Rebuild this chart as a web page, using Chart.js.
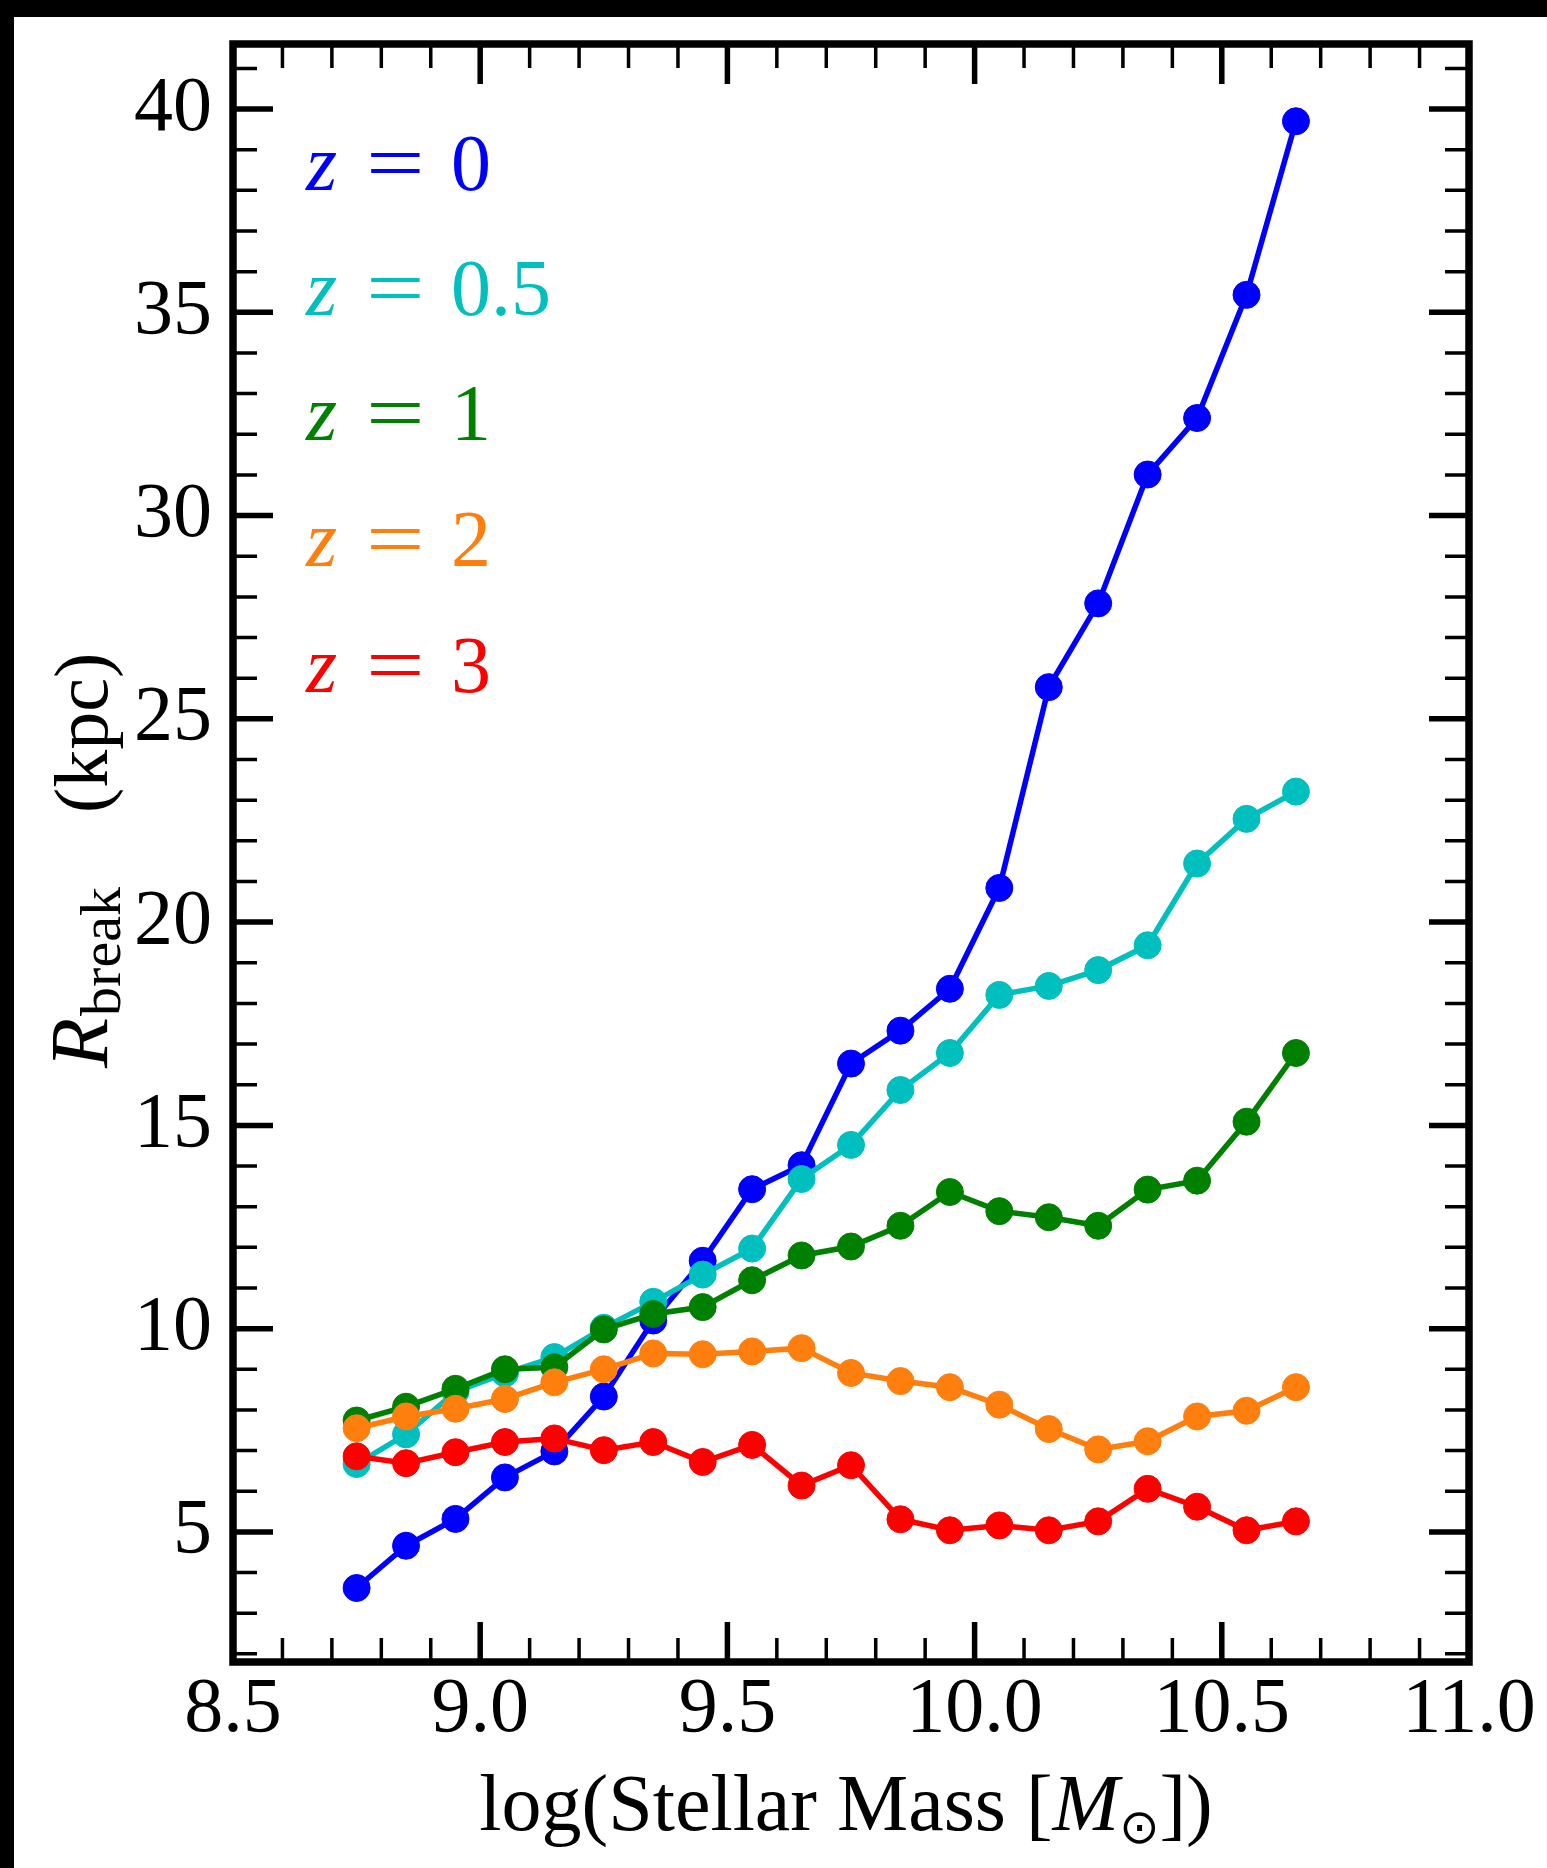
<!DOCTYPE html>
<html>
<head>
<meta charset="utf-8">
<title>R_break vs stellar mass</title>
<script src="https://cdn.jsdelivr.net/npm/chart.js@4.4.0/dist/chart.umd.min.js"></script>
<style>
html, body { margin: 0; padding: 0; background: #fff; overflow: hidden; }
#wrap { width: 1547px; height: 1868px; }
</style>
</head>
<body>
<div id="wrap"><canvas id="chartBreak" width="1547" height="1868"></canvas></div>
<script>
// mass bins (log M*), one point per bin
var logMass = [8.75, 8.85, 8.95, 9.05, 9.15, 9.25, 9.35, 9.45, 9.55, 9.65,
               9.75, 9.85, 9.95, 10.05, 10.15, 10.25, 10.35, 10.45, 10.55, 10.65];

// R_break in kpc for each redshift
var rBreakZ0  = [3.62, 4.66, 5.32, 6.34, 6.98, 8.33, 10.2, 11.67, 13.43, 14.02,
                 16.52, 17.33, 18.36, 20.84, 25.78, 27.84, 31.01, 32.4, 35.43, 39.7];
var rBreakZ05 = [6.67, 7.4, 8.45, 8.9, 9.3, 10.02, 10.66, 11.33, 11.97, 13.68,
                 14.52, 15.87, 16.78, 18.21, 18.43, 18.82, 19.43, 21.44, 22.54, 23.21];
var rBreakZ1  = [7.74, 8.08, 8.52, 9.0, 9.05, 9.98, 10.36, 10.53, 11.19, 11.8,
                 12.02, 12.53, 13.36, 12.89, 12.74, 12.53, 13.42, 13.64, 15.09, 16.78];
var rBreakZ2  = [7.55, 7.84, 8.03, 8.27, 8.68, 9.0, 9.39, 9.37, 9.44, 9.52,
                 8.91, 8.71, 8.56, 8.13, 7.53, 7.03, 7.23, 7.84, 7.98, 8.56];
var rBreakZ3  = [6.86, 6.69, 6.96, 7.21, 7.3, 7.01, 7.21, 6.72, 7.14, 6.14,
                 6.64, 5.31, 5.04, 5.16, 5.04, 5.26, 6.06, 5.62, 5.04, 5.26];

var redshifts = ['0', '0.5', '1', '2', '3'];
var colors = ['#0000ff', '#00bfbf', '#008000', '#ff7f0e', '#ff0000'];

var xTicks = [8.5, 9.0, 9.5, 10.0, 10.5, 11.0];
var yTicks = [5, 10, 15, 20, 25, 30, 35, 40];

var serif = '"Liberation Serif", "Times New Roman", serif';

function pts(ys) {
    var out = [];
    for (var i = 0; i < logMass.length; i++) out.push({x: logMass[i], y: ys[i]});
    return out;
}

var allSeries = [rBreakZ0, rBreakZ05, rBreakZ1, rBreakZ2, rBreakZ3];
var datasets = [];
for (var k = 0; k < allSeries.length; k++) {
    datasets.push({
        label: 'z = ' + redshifts[k],
        data: pts(allSeries[k]),
        borderColor: colors[k],
        backgroundColor: colors[k],
        borderWidth: 5.5,
        pointRadius: 13.5,
        pointBorderWidth: 1,
        pointHoverRadius: 13.5,
        tension: 0,
        order: allSeries.length - k   // later series drawn on top, like matplotlib
    });
}

// white page + black strips at top and left edge
var backdrop = {
    id: 'backdrop',
    beforeDraw: function(chart) {
        var c = chart.ctx;
        c.save();
        c.fillStyle = '#fff';
        c.fillRect(0, 0, chart.width, chart.height);
        c.fillStyle = '#000';
        c.fillRect(0, 0, chart.width, 17);
        c.fillRect(0, 0, 14, chart.height);
        c.restore();
    }
};

// box frame with inward ticks on all four sides
var frame = {
    id: 'frame',
    afterDatasetsDraw: function(chart) {
        var c = chart.ctx, a = chart.chartArea;
        var sx = chart.scales.x, sy = chart.scales.y;
        c.save();
        c.strokeStyle = '#000';
        c.lineCap = 'butt';

        function xtick(v, len, w) {
            var px = sx.getPixelForValue(v);
            c.lineWidth = w;
            c.beginPath();
            c.moveTo(px, a.bottom); c.lineTo(px, a.bottom - len);
            c.moveTo(px, a.top); c.lineTo(px, a.top + len);
            c.stroke();
        }
        function ytick(v, len, w) {
            var py = sy.getPixelForValue(v);
            c.lineWidth = w;
            c.beginPath();
            c.moveTo(a.left, py); c.lineTo(a.left + len, py);
            c.moveTo(a.right, py); c.lineTo(a.right - len, py);
            c.stroke();
        }
        for (var i = 86; i < 110; i++) if (i % 5 !== 0) xtick(i / 10, 24, 3.5);
        xTicks.forEach(function(v) { xtick(v, 40, 5.5); });
        for (var j = 2; j <= 41; j++) if (j % 5 !== 0) ytick(j, 24, 3.5);
        yTicks.forEach(function(v) { ytick(v, 40, 5.5); });

        c.lineWidth = 7.5;
        c.strokeRect(a.left, a.top, a.right - a.left, a.bottom - a.top);
        c.restore();
    }
};

// "=" drawn a little wider than the serif glyph, closer to the TeX one
function wideEquals(c, x, y, size) {
    c.save();
    c.translate(x, y);
    c.scale(1.3, 1);
    c.font = size + 'px ' + serif;
    c.fillText('=', 0, 0);
    c.restore();
}

// in-plot redshift labels and the two axis titles
var labels = {
    id: 'labels',
    afterDraw: function(chart) {
        var c = chart.ctx;
        c.save();
        c.textBaseline = 'alphabetic';
        c.textAlign = 'left';
        var base = [190, 315, 440, 566, 692];
        for (var k = 0; k < redshifts.length; k++) {
            c.fillStyle = colors[k];
            c.font = 'italic 80px ' + serif;
            c.fillText('z', 306, base[k]);
            wideEquals(c, 366, base[k], 80);
            c.font = '80px ' + serif;
            c.fillText(redshifts[k], 451, base[k]);
        }

        c.fillStyle = '#000';
        // y title, rotated
        c.save();
        c.translate(107, 1068);
        c.rotate(-Math.PI / 2);
        c.font = 'italic 82px ' + serif;
        c.fillText('R', 0, 0);
        var wR = c.measureText('R').width;
        c.font = '58px ' + serif;
        c.fillText('break', wR + 2, 13);
        c.font = '76px ' + serif;
        c.fillText('(kpc)', 255, 0);
        c.restore();

        // x title
        var partA = 'log(Stellar Mass [', partB = 'M', partC = '\u2299', partD = '])';
        c.font = '80px ' + serif;
        var wA = c.measureText(partA).width, wD = c.measureText(partD).width;
        c.font = 'italic 80px ' + serif;
        var wB = c.measureText(partB).width;
        c.font = '48px "DejaVu Sans", sans-serif';
        var wC = c.measureText(partC).width;
        var x0 = 846 - (wA + wB + wC + wD) / 2;
        var yb = 1830;
        c.font = '80px ' + serif;
        c.fillText(partA, x0, yb);
        c.font = 'italic 80px ' + serif;
        c.fillText(partB, x0 + wA, yb);
        c.font = '48px "DejaVu Sans", sans-serif';
        c.fillText(partC, x0 + wA + wB, yb + 13);
        c.font = '80px ' + serif;
        c.fillText(partD, x0 + wA + wB + wC, yb);
        c.restore();
    }
};

var ctx = document.getElementById('chartBreak').getContext('2d');
var chart = new Chart(ctx, {
    type: 'line',
    data: { datasets: datasets },
    options: {
        responsive: false,
        animation: false,
        devicePixelRatio: 1,
        layout: { padding: { left: 0, top: 44, right: 78, bottom: 0 } },
        plugins: {
            legend: { display: false },
            tooltip: { enabled: false },
            title: { display: false }
        },
        scales: {
            x: {
                type: 'linear',
                min: 8.5,
                max: 11.0,
                grid: { display: false, drawTicks: false },
                border: { display: false },
                afterBuildTicks: function(scale) {
                    scale.ticks = xTicks.map(function(v) { return {value: v}; });
                },
                afterFit: function(scale) {
                    scale.height = 206;
                    scale.paddingLeft = 0;
                    scale.paddingRight = 0;
                },
                ticks: {
                    maxRotation: 0,
                    autoSkip: false,
                    padding: 2,
                    color: '#000',
                    font: { family: serif, size: 78 },
                    callback: function(v) { return Number(v).toFixed(1); }
                }
            },
            y: {
                type: 'linear',
                min: 1.8,
                max: 41.6,
                grid: { display: false, drawTicks: false },
                border: { display: false },
                afterBuildTicks: function(scale) {
                    scale.ticks = yTicks.map(function(v) { return {value: v}; });
                },
                afterFit: function(scale) {
                    scale.width = 233;
                    scale.paddingTop = 0;
                    scale.paddingBottom = 0;
                },
                ticks: {
                    autoSkip: false,
                    padding: 21,
                    color: '#000',
                    font: { family: serif, size: 78 },
                    callback: function(v) { return String(v); }
                }
            }
        }
    },
    plugins: [backdrop, frame, labels]
});
</script>
</body>
</html>
